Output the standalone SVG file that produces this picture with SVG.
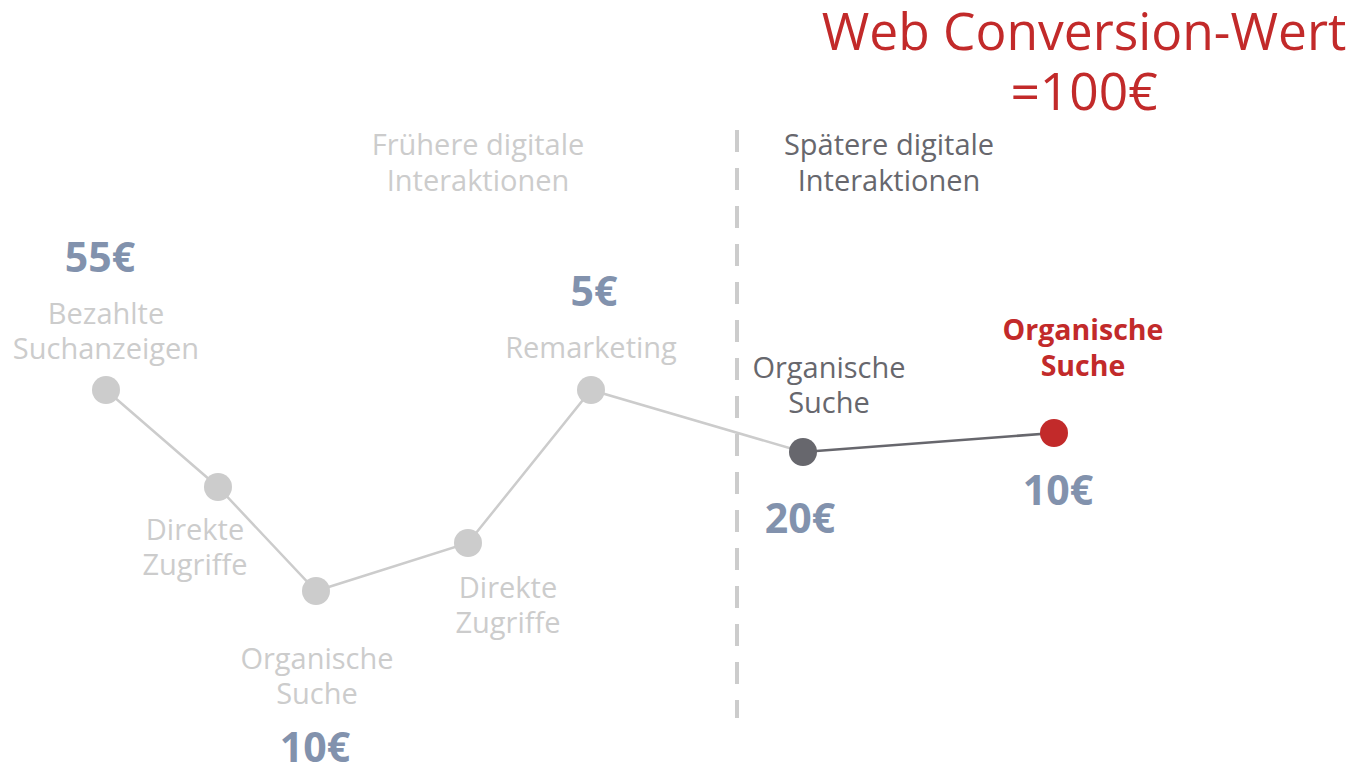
<svg xmlns="http://www.w3.org/2000/svg" width="1349" height="766" viewBox="0 0 1349 766">
  <style>
    text { font-family: "Open Sans", "Noto Sans", "DejaVu Sans", sans-serif; text-anchor: middle; }
    .lbl { font-size: 29px; fill: #cccccc; }
    .lbl-dark { font-size: 29px; fill: #67676d; }
    .lbl-red { font-size: 28.5px; font-weight: bold; fill: #c22a2a; }
    .val { font-size: 41px; font-weight: bold; fill: #8292ad; }
    .title { font-size: 51.5px; fill: #c22a2a; }
    .dot { fill: #cccccc; }
    .dot-dark { fill: #67676d; }
    .dot-red { fill: #c22a2a; }
    .edge { stroke: #cccccc; stroke-width: 2.5; fill: none; }
    .edge-dark { stroke: #67676d; stroke-width: 2.5; fill: none; }
    .divider { stroke: #cccccc; stroke-width: 4; stroke-dasharray: 22 16; }
  </style>

  <rect width="1349" height="766" fill="#ffffff"/>

  <g id="title">
    <text class="title" x="1084" y="50">Web Conversion-Wert</text>
    <text class="title" x="1084" y="110">=100€</text>
  </g>

  <g id="divider">
    <line class="divider" x1="737" y1="130" x2="737" y2="718"/>
  </g>

  <g id="headings">
    <text class="lbl" x="478" y="155">Frühere digitale</text>
    <text class="lbl" x="478" y="191">Interaktionen</text>
    <text class="lbl-dark" x="889" y="155">Spätere digitale</text>
    <text class="lbl-dark" x="889" y="191">Interaktionen</text>
  </g>

  <g id="connectors">
    <polyline class="edge" points="106,390 218,487 316,591 468,543 591,390 803,452"/>
    <line class="edge-dark" x1="803" y1="452" x2="1054" y2="433"/>
  </g>

  <g id="node-bezahlte-suchanzeigen">
    <text class="val" x="100" y="272">55€</text>
    <text class="lbl" x="106" y="324">Bezahlte</text>
    <text class="lbl" x="106" y="359">Suchanzeigen</text>
    <circle class="dot" cx="106" cy="390" r="14"/>
  </g>

  <g id="node-direkte-zugriffe-1">
    <circle class="dot" cx="218" cy="487" r="14"/>
    <text class="lbl" x="195" y="540">Direkte</text>
    <text class="lbl" x="195" y="575">Zugriffe</text>
  </g>

  <g id="node-organische-suche-1">
    <circle class="dot" cx="316" cy="591" r="14"/>
    <text class="lbl" x="317" y="669">Organische</text>
    <text class="lbl" x="317" y="704">Suche</text>
    <text class="val" x="315" y="762">10€</text>
  </g>

  <g id="node-direkte-zugriffe-2">
    <circle class="dot" cx="468" cy="543" r="14"/>
    <text class="lbl" x="508" y="598">Direkte</text>
    <text class="lbl" x="508" y="633">Zugriffe</text>
  </g>

  <g id="node-remarketing">
    <text class="val" x="594" y="306">5€</text>
    <text class="lbl" x="591" y="358">Remarketing</text>
    <circle class="dot" cx="591" cy="390" r="14"/>
  </g>

  <g id="node-organische-suche-2">
    <text class="lbl-dark" x="829" y="378">Organische</text>
    <text class="lbl-dark" x="829" y="413">Suche</text>
    <circle class="dot-dark" cx="803" cy="452" r="14"/>
    <text class="val" x="800" y="533">20€</text>
  </g>

  <g id="node-organische-suche-3">
    <text class="lbl-red" x="1083" y="340">Organische</text>
    <text class="lbl-red" x="1083" y="376">Suche</text>
    <circle class="dot-red" cx="1054" cy="433" r="14"/>
    <text class="val" x="1058" y="505">10€</text>
  </g>
</svg>
